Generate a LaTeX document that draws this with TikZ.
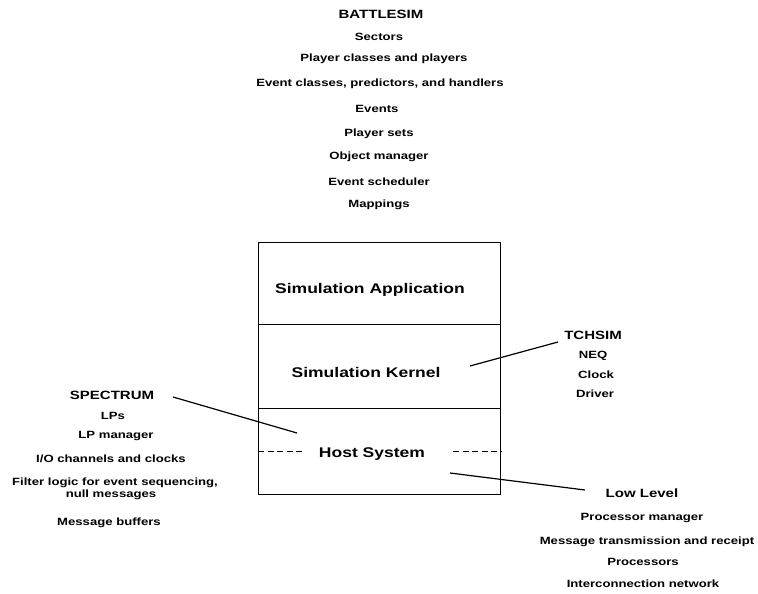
\documentclass[tikz,border=0pt]{standalone}
\usepackage{fontspec}
\setmainfont{Liberation Sans}[FakeStretch=1.25]
\begin{document}
\begin{tikzpicture}[x=1pt,y=-1pt,
  lay/.style={draw,line width=1.2pt,minimum width=242pt,inner sep=0pt,anchor=north west},
  hdr/.style={font=\bfseries\fontsize{12}{14}\selectfont,anchor=base,inner sep=0pt},
  itm/.style={font=\bfseries\fontsize{10.5}{12}\selectfont,anchor=base,inner sep=0pt,align=center},
  big/.style={font=\bfseries\fontsize{14}{16}\selectfont,anchor=base,inner sep=0pt},
  conn/.style={line width=1.2pt},
  dsh/.style={line width=1pt,dash pattern=on 6pt off 3.5pt}]
\useasboundingbox (0,0) rectangle (758,594);
% layered box
\node[lay,minimum height=82pt] (app) at (258,242) {};
\node[lay,minimum height=84pt] (kern) at (258,324) {};
\node[lay,minimum height=86pt] (host) at (258,408) {};
\node[big] (tapp) at (370,293) {Simulation Application};
\node[big] (tkern) at (366,377) {Simulation Kernel};
\node[big] (thost) at (372,457) {Host System};
\coordinate (dl) at (305,451);
\coordinate (dr) at (453,451);
\draw[dsh] (host.west |- dl) -- (dl);
\draw[dsh] (dr) -- (host.east |- dr);
% BATTLESIM
\node[hdr] (battlesim) at (381,19) {BATTLESIM};
\node[itm] (b1) at (379,41) {Sectors};
\node[itm] (b2) at (384,62) {Player classes and players};
\node[itm] (b3) at (380,87) {Event classes, predictors, and handlers};
\node[itm] (b4) at (377,113) {Events};
\node[itm] (b5) at (379,136) {Player sets};
\node[itm] (b6) at (379,159) {Object manager};
\node[itm] (b7) at (379,185) {Event scheduler};
\node[itm] (b8) at (379,207) {Mappings};
% TCHSIM
\node[hdr] (tchsim) at (593,339) {TCHSIM};
\node[itm] (t1) at (593,358) {NEQ};
\node[itm] (t2) at (596,378) {Clock};
\node[itm] (t3) at (595,397) {Driver};
% SPECTRUM
\node[hdr] (spectrum) at (112,399) {SPECTRUM};
\node[itm] (s1) at (113,419) {LPs};
\node[itm] (s2) at (116,438) {LP manager};
\node[itm] (s3) at (111,462) {I/O channels and clocks};
\node[itm] (s4) at (115,485) {Filter logic for event sequencing,};
\node[itm] (s5) at (111,497) {null messages};
\node[itm] (s6) at (109,525) {Message buffers};
% Low Level
\node[hdr] (lowlevel) at (642,497) {Low Level};
\node[itm] (l1) at (642,520) {Processor manager};
\node[itm] (l2) at (647,544) {Message transmission and receipt};
\node[itm] (l3) at (643,565) {Processors};
\node[itm] (l4) at (643,587) {Interconnection network};
% connectors
\coordinate (ck) at (470,366);
\coordinate (ct) at (558,342);
\coordinate (cs) at (173,397);
\coordinate (csh) at (297,433);
\coordinate (cl) at (585,490);
\coordinate (clh) at (450,473);
\draw[conn] (ck) -- (ct);
\draw[conn] (cs) -- (csh);
\draw[conn] (clh) -- (cl);
\end{tikzpicture}
\end{document}
